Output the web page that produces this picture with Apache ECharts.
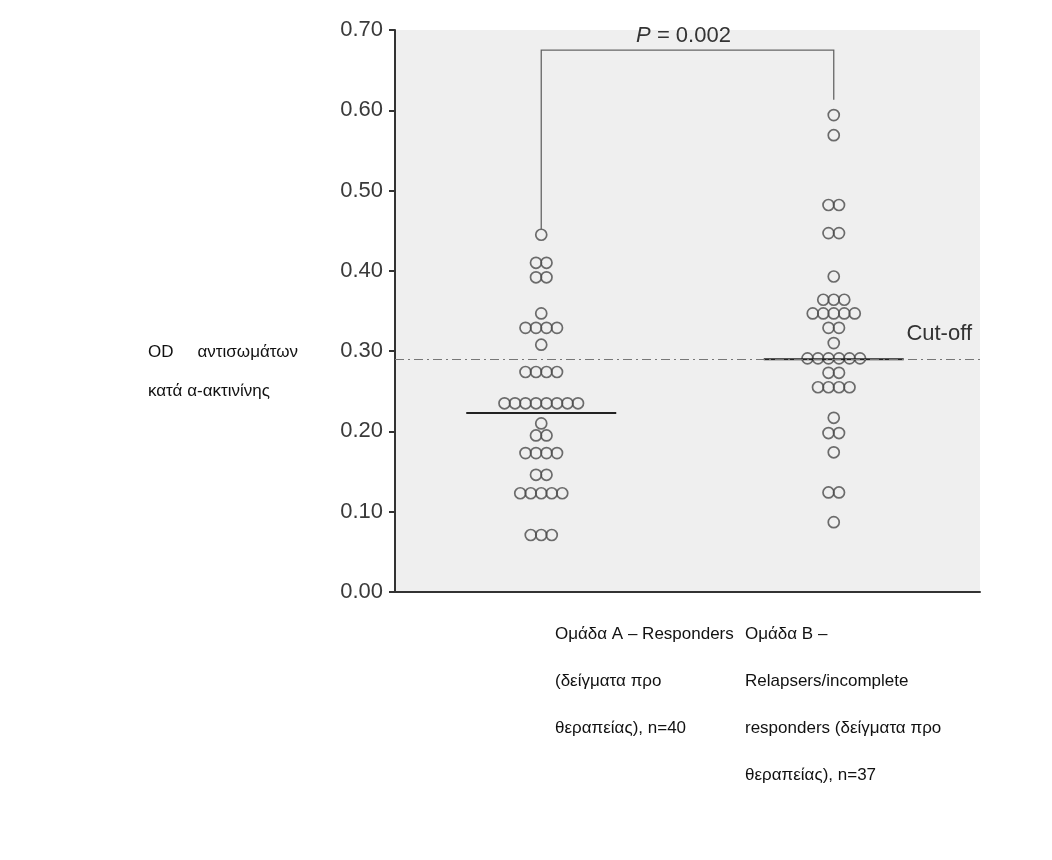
<!DOCTYPE html>
<html><head><meta charset="utf-8">
<script src="https://cdn.jsdelivr.net/npm/echarts@6/dist/echarts.min.js"></script>
<style>html,body{margin:0;padding:0;background:#fff}#c{width:1052px;height:860px}</style>
</head><body><div id="c"></div>
<script>
// ---- data ----
const categories = ['Ομάδα A', 'Ομάδα B'];
const groupA = [0.445, 0.41, 0.41, 0.392, 0.392, 0.347, 0.329, 0.329, 0.329, 0.329, 0.308,
  0.274, 0.274, 0.274, 0.274, 0.235, 0.235, 0.235, 0.235, 0.235, 0.235, 0.235, 0.235,
  0.21, 0.195, 0.195, 0.173, 0.173, 0.173, 0.173, 0.146, 0.146,
  0.123, 0.123, 0.123, 0.123, 0.123, 0.071, 0.071, 0.071];
const groupB = [0.594, 0.569, 0.482, 0.482, 0.447, 0.447, 0.393, 0.364, 0.364, 0.364,
  0.347, 0.347, 0.347, 0.347, 0.347, 0.329, 0.329, 0.31,
  0.291, 0.291, 0.291, 0.291, 0.291, 0.291, 0.273, 0.273, 0.255, 0.255, 0.255, 0.255,
  0.217, 0.198, 0.198, 0.174, 0.124, 0.124, 0.087];
const medians = [0.223, 0.29];
const cutoff = 0.29;
const cutoffLabel = 'Cut-off';
const bracketLevels = [0.452, 0.675, 0.613]; // left foot, top, right foot
const pValueText = '0.002';
const yTitleLine1 = ['OD', 'αντισωμάτων'];
const yTitleLine2 = 'κατά α-ακτινίνης';
const labelA = ['Ομάδα A – Responders', '(δείγματα προ', 'θεραπείας), n=40'];
const labelB = ['Ομάδα B –', 'Relapsers/incomplete', 'responders (δείγματα προ', 'θεραπείας), n=37'];

// ---- build dot rows ----
const SP = 10.5;
function dots(vals, ci) {
  const counts = new Map();
  vals.forEach(v => counts.set(v, (counts.get(v) || 0) + 1));
  const out = [];
  counts.forEach((n, v) => {
    for (let i = 0; i < n; i++) {
      out.push({ value: [ci, v], symbolOffset: [(i - (n - 1) / 2) * SP, 0] });
    }
  });
  return out;
}

const FONT = '"Liberation Sans", Arial, sans-serif';
const chart = echarts.init(document.getElementById('c'), null, { renderer: 'canvas' });
const dotStyle = { color: 'rgba(0,0,0,0)', borderColor: '#4a4a4a', borderWidth: 1.7 };
const halfW = [75, 70];

chart.setOption({
  animation: false,
  backgroundColor: '#ffffff',
  grid: { left: 395, right: 72, top: 30, bottom: 268, show: true, backgroundColor: '#efefef', borderWidth: 0 },
  xAxis: {
    type: 'category', data: categories, boundaryGap: true,
    axisLine: { lineStyle: { color: '#333', width: 2 } },
    axisTick: { alignWithLabel: true, length: 9, lineStyle: { color: '#333', width: 2 } },
    axisLabel: { show: false }, splitLine: { show: false }
  },
  yAxis: {
    type: 'value', min: 0, max: 0.7, interval: 0.1,
    axisLine: { show: true, lineStyle: { color: '#333', width: 2 } },
    axisTick: { show: true, length: 6, lineStyle: { color: '#333', width: 2 } },
    axisLabel: { color: '#3a3a3a', fontSize: 22, fontFamily: FONT, margin: 12, formatter: v => v.toFixed(2) },
    splitLine: { show: false }
  },
  series: [
    {
      type: 'scatter', symbol: 'circle', symbolSize: 11, itemStyle: dotStyle,
      data: dots(groupA, 0), z: 3,
      markLine: {
        silent: true, symbol: 'none',
        lineStyle: { color: '#777', width: 1.2, type: [9, 4, 2, 4] },
        label: { show: true, position: 'insideEndTop', formatter: cutoffLabel, color: '#333', fontSize: 22, fontFamily: FONT, distance: [8, 14] },
        data: [{ yAxis: cutoff }]
      }
    },
    { type: 'scatter', symbol: 'circle', symbolSize: 11, itemStyle: dotStyle, data: dots(groupB, 1), z: 3 },
    {
      type: 'custom', z: 4, silent: true,
      data: medians.map((m, i) => [i, m]),
      renderItem: (params, api) => {
        const p = api.coord([api.value(0), api.value(1)]);
        const hw = halfW[params.dataIndex];
        return { type: 'line', shape: { x1: p[0] - hw, y1: p[1], x2: p[0] + hw, y2: p[1] }, style: { stroke: '#222', lineWidth: 2 } };
      }
    },
    {
      type: 'custom', z: 4, silent: true,
      data: [[0, 1]],
      renderItem: (params, api) => {
        const a = api.coord([0, bracketLevels[0]]);
        const t1 = api.coord([0, bracketLevels[1]]);
        const t2 = api.coord([1, bracketLevels[1]]);
        const b = api.coord([1, bracketLevels[2]]);
        return {
          type: 'group', children: [
            { type: 'polyline', shape: { points: [a, t1, t2, b] }, style: { stroke: '#666', lineWidth: 1.3, fill: null } },
            { type: 'text', style: {
                text: '{i|P} = ' + pValueText, x: (t1[0] + t2[0]) / 2 - 4, y: t1[1] - 3,
                align: 'center', verticalAlign: 'bottom', fontSize: 22, fontFamily: FONT, fill: '#333',
                rich: { i: { fontStyle: 'italic', fontSize: 22, fontFamily: FONT, fill: '#333' } }
              } }
          ]
        };
      }
    }
  ],
  graphic: [
    { type: 'text', left: 148, top: 344, style: { text: yTitleLine1[0], font: '17px ' + FONT, fill: '#111' } },
    { type: 'text', right: 1052 - 298, top: 344, style: { text: yTitleLine1[1], font: '17px ' + FONT, fill: '#111' } },
    { type: 'text', left: 148, top: 383, style: { text: yTitleLine2, font: '17px ' + FONT, fill: '#111' } },
    { type: 'text', left: 555, top: 611, style: { text: labelA.join('\n'), font: '17px ' + FONT, fill: '#111', lineHeight: 47 } },
    { type: 'text', left: 745, top: 611, style: { text: labelB.join('\n'), font: '17px ' + FONT, fill: '#111', lineHeight: 47 } }
  ]
});
</script></body></html>
